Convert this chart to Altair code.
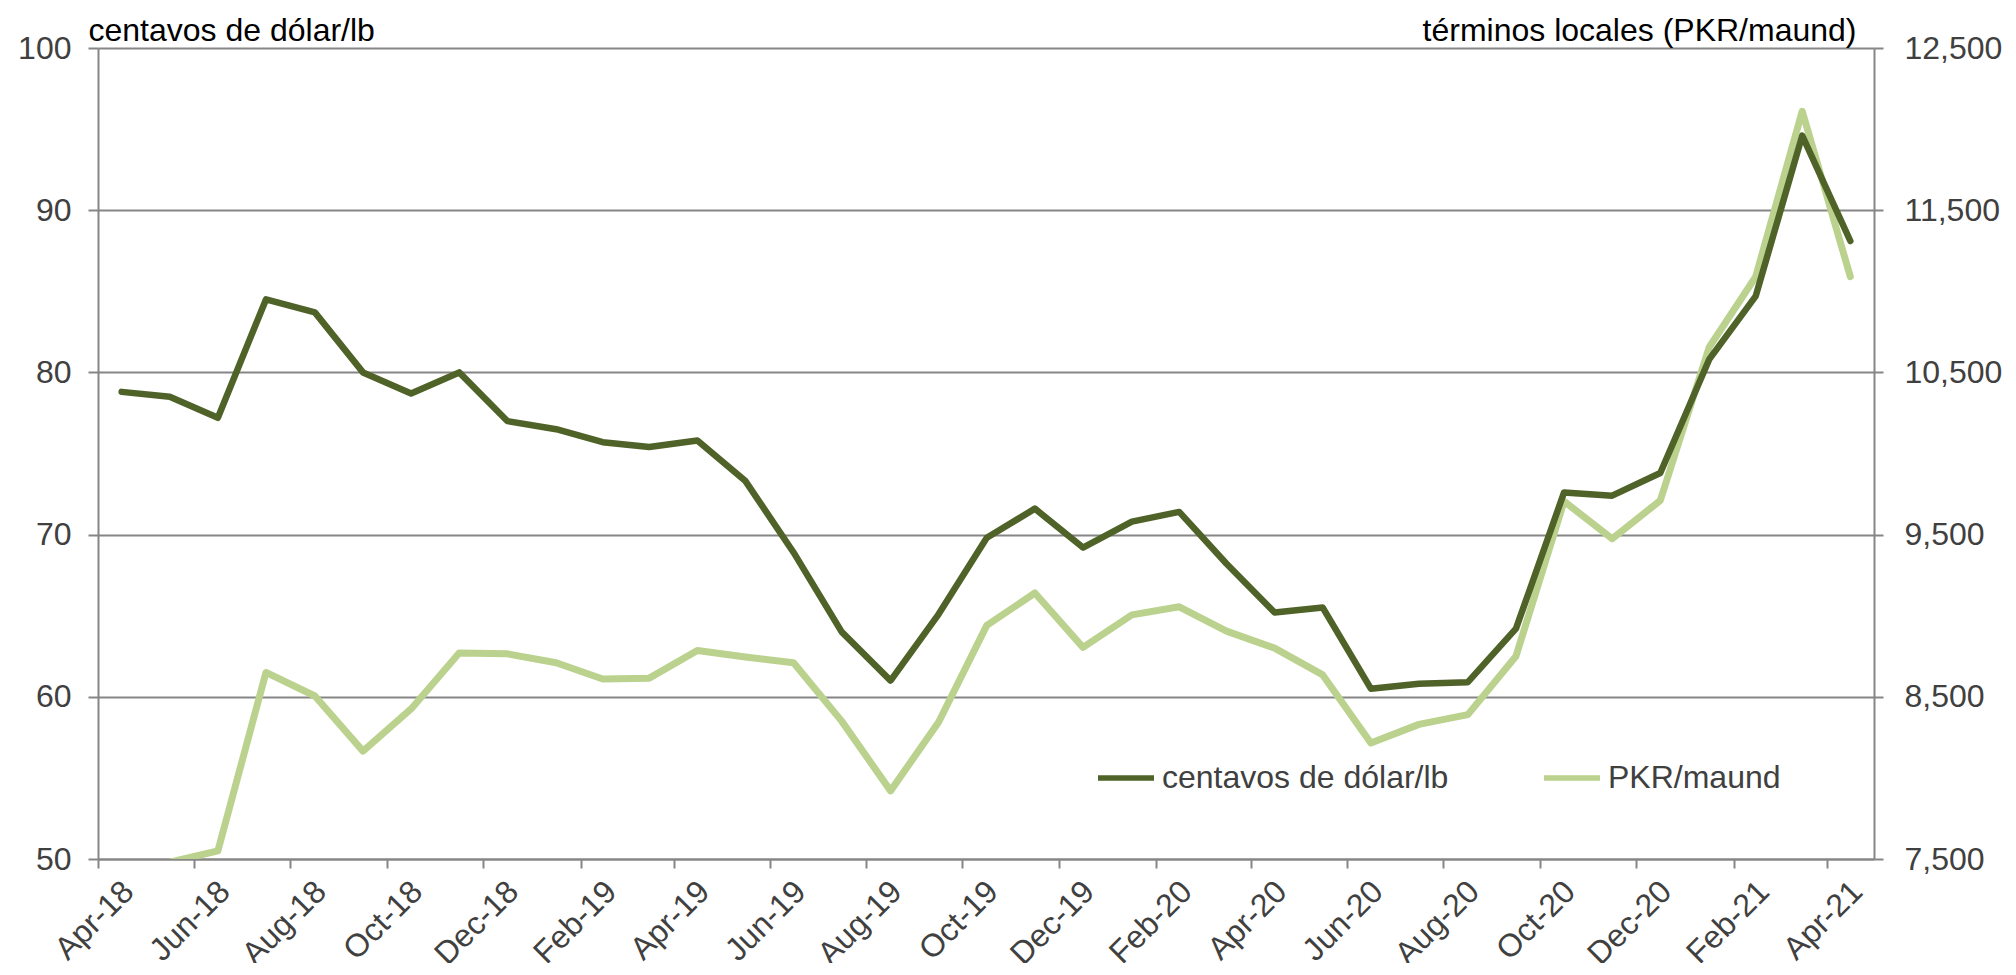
import altair as alt
import pandas as pd

# Months (Apr-18 .. Apr-21)
months = ["2018-04", "2018-05", "2018-06", "2018-07", "2018-08", "2018-09", "2018-10",
          "2018-11", "2018-12", "2019-01", "2019-02", "2019-03", "2019-04", "2019-05",
          "2019-06", "2019-07", "2019-08", "2019-09", "2019-10", "2019-11", "2019-12",
          "2020-01", "2020-02", "2020-03", "2020-04", "2020-05", "2020-06", "2020-07",
          "2020-08", "2020-09", "2020-10", "2020-11", "2020-12", "2021-01", "2021-02",
          "2021-03", "2021-04"]

# US cents per lb (left axis)
usc_lb = [78.8, 78.5, 77.2, 84.5, 83.7, 80.0, 78.7, 80.0, 77.0, 76.5, 75.7, 75.4,
          75.8, 73.3, 68.9, 64.0, 61.0, 65.1, 69.8, 71.6, 69.2, 70.8, 71.4, 68.2,
          65.2, 65.5, 60.5, 60.8, 60.9, 64.2, 72.6, 72.4, 73.8, 80.8, 84.7, 94.6, 88.1]

# PKR per maund (right axis)
pkr_maund = [7470, 7480, 7550, 8650, 8505, 8165, 8425, 8770, 8765, 8710, 8610, 8615,
             8785, 8745, 8710, 8350, 7920, 8345, 8940, 9140, 8805, 9005, 9055, 8905,
             8800, 8635, 8215, 8330, 8390, 8750, 9705, 9475, 9710, 10655, 11090, 12110, 11090]

series_names = ["centavos de dólar/lb", "PKR/maund"]
series_colors = ["#4F6228", "#BBD28E"]

left_title = "centavos de dólar/lb"
right_title = "términos locales (PKR/maund)"
left_ticks = [50, 60, 70, 80, 90, 100]
right_ticks = [7500, 8500, 9500, 10500, 11500, 12500]

# x-axis label months (every two months)
tick_months = months[::2]

df = pd.DataFrame({"mes": months, "usc": usc_lb, "pkr": pkr_maund})

FONT = "Liberation Sans"
FS = 32
GRAY = "#868686"
TXT = "#404040"


def dt(m):
    y, mo = m.split("-")
    return alt.DateTime(year=int(y), month=int(mo), date=1, utc=True)


x_enc = alt.X(
    "mes:T",
    timeUnit="utcyearmonth",
    bandPosition=0.5,
    scale=alt.Scale(domain=[dt("2018-04"), dt("2021-05")]),
    axis=alt.Axis(
        title=None,
        values=[dt(m) for m in tick_months],
        format="%b-%y",
        labelAngle=-45,
        labelAlign="right",
        labelBaseline="middle",
        labelOffset=30,
        labelPadding=18,
        tickSize=9,
        grid=False,
    ),
)

color_enc = alt.Color(
    "serie:N",
    scale=alt.Scale(domain=series_names, range=series_colors),
    legend=alt.Legend(title=None),
)

left = alt.Chart(df).transform_calculate(
    serie=f"'{series_names[0]}'"
).mark_line(strokeWidth=6.5, strokeJoin="round", strokeCap="round", clip=True).encode(
    x=x_enc,
    y=alt.Y(
        "usc:Q",
        scale=alt.Scale(domain=[50, 100], nice=False, zero=False),
        axis=alt.Axis(
            orient="left",
            values=left_ticks,
            grid=True,
            tickSize=10,
            labelPadding=17,
            title=left_title,
            titleAngle=0,
            titleAlign="left",
            titleBaseline="alphabetic",
            titleX=-10,
            titleY=-8,
        ),
    ),
    color=color_enc,
)

right = alt.Chart(df).transform_calculate(
    serie=f"'{series_names[1]}'"
).mark_line(strokeWidth=7, strokeJoin="round", strokeCap="round", clip=True).encode(
    x=x_enc,
    y=alt.Y(
        "pkr:Q",
        scale=alt.Scale(domain=[7500, 12500], nice=False, zero=False),
        axis=alt.Axis(
            orient="right",
            values=right_ticks,
            format=",.0f",
            grid=False,
            tickSize=9,
            labelPadding=21,
            title=right_title,
            titleAngle=0,
            titleAlign="right",
            titleBaseline="alphabetic",
            titleX=-18,
            titleY=-8,
        ),
    ),
    color=color_enc,
)

chart = (
    alt.layer(right, left)
    .resolve_scale(y="independent")
    .properties(
        width=1776,
        height=811,
        autosize=alt.AutoSizeParams(type="none"),
        padding={"left": 90, "top": 40, "right": 128, "bottom": 104},
        background="white",
    )
    .configure_view(strokeOpacity=0)
    .configure_axis(
        labelFont=FONT,
        labelFontSize=FS,
        labelColor=TXT,
        titleFont=FONT,
        titleFontSize=FS,
        titleFontWeight="normal",
        titleColor="#000000",
        domainColor=GRAY,
        domainWidth=2,
        tickColor=GRAY,
        tickWidth=2,
        gridColor=GRAY,
        gridWidth=2,
    )
    .configure_legend(
        orient="none",
        legendX=997,
        legendY=699,
        direction="horizontal",
        symbolType="stroke",
        symbolSize=3136,
        symbolStrokeWidth=5.5,
        labelFont=FONT,
        labelFontSize=FS,
        labelColor=TXT,
        labelLimit=0,
        labelOffset=5,
        columnPadding=84,
        padding=0,
    )
)

chart.save("out.html", embed_options={"renderer": "svg", "actions": False})
